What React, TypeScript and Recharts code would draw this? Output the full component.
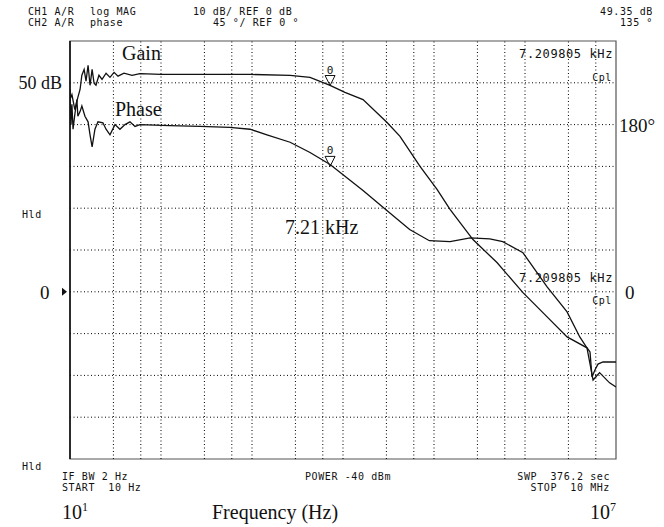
import React from 'react';
import { ComposedChart, Line, Scatter, XAxis, YAxis, ReferenceLine, ReferenceArea, ReferenceDot } from 'recharts';

// Gain trace (Hz, dB)
const GAIN_FREQ = [10, 10.5, 11.3, 12.2, 12.9, 13.5, 14.3, 15.0, 15.8, 16.6, 17.5, 18.4, 19.3, 20.8, 22.5, 24.9, 27.5, 30.5, 33.7, 39.2, 48, 58.7, 100, 268, 951, 2620, 4340, 7210, 10500, 16600, 30500, 42300, 70200, 108000, 150000, 268000, 492000, 950000, 1750000, 2900000, 4800000, 5180000, 5450000, 5870000, 6340000, 7190000, 10000000];
const GAIN_DB = [46.0, 47.2, 43.6, 46.5, 48.4, 51.8, 53.2, 50.4, 54.2, 49.4, 53.2, 49.9, 49.4, 51.8, 50.8, 52.3, 51.3, 52.5, 51.6, 52.3, 51.8, 52.2, 52.0, 52.0, 52.0, 51.8, 51.3, 49.4, 47.7, 46.0, 40.5, 37.2, 30.0, 24.5, 19.7, 12.5, 7.0, -0.2, -6.0, -10.8, -13.4, -14.4, -20.4, -18.7, -17.3, -16.8, -16.8];

// Phase trace (Hz, degrees)
const PHASE_FREQ = [10, 10.25, 10.5, 10.8, 11.3, 11.9, 12.2, 12.9, 13.5, 14.6, 15.8, 16.6, 17.5, 18.8, 20.3, 23.0, 24.9, 27.5, 31.2, 35.4, 40.2, 45.6, 51.8, 58.7, 125, 268, 570, 951, 1460, 2620, 4340, 7210, 16600, 27500, 54000, 89000, 150000, 250000, 410000, 570000, 950000, 1750000, 2900000, 4000000, 4800000, 5600000, 6600000, 8500000, 10000000];
const PHASE_DEG = [218, 180, 202, 175, 191, 207, 189, 194, 200, 189, 183, 169, 156, 175, 183, 182, 175, 169, 180, 175, 180, 183, 178, 180, 179, 178, 177, 175, 169, 161, 150, 137, 109, 91, 67, 55, 54, 58, 57, 54, 42, 5.4, -21.6, -48.6, -60.4, -95, -87, -98, -102.5];

const GRID_FREQ = [30, 60, 100, 300, 600, 1e3, 3e3, 6e3, 1e4, 3e4, 6e4, 1e5, 3e5, 6e5, 1e6, 3e6, 6e6];
const GRID_DB = [-30, -20, -10, 0, 10, 20, 30, 40, 50];

const MARKER_FREQ = 7209.805;
const MARKER_GAIN = 49.35;
const MARKER_PHASE = 135;

const NB = '\u00a0';
const HEADER_1 = ['CH1 A/R', 'log MAG', '10 dB/ REF 0 dB', '49.35 dB'];
const HEADER_2 = ['CH2 A/R', 'phase', '45 °/ REF 0 °', '135 °'];
const FOOTER_1 = ['IF BW 2 Hz', 'POWER -40 dBm', `SWP${NB}${NB}376.2 sec`];
const FOOTER_2 = [`START${NB}${NB}10 Hz`, `STOP${NB}${NB}10 MHz`];

const gainData = GAIN_FREQ.map((f, i) => ({ f, v: GAIN_DB[i] }));
const phaseData = PHASE_FREQ.map((f, i) => ({ f, v: PHASE_DEG[i] }));

const MONO = '"DejaVu Sans Mono", monospace';
const SERIF = '"Liberation Serif", "DejaVu Serif", serif';

// eslint-disable-next-line @typescript-eslint/no-explicit-any
const MarkerShape = (props: any) => {
    const { cx, cy } = props;
    return (
        <g>
            <path d={`M${cx - 5},${cy - 10} L${cx + 5},${cy - 10} L${cx},${cy} Z`} fill="none" stroke="#111" strokeWidth={1} />
            <text x={cx} y={cy - 12} textAnchor="middle" fontFamily={MONO} fontSize={11} fill="#111">0</text>
        </g>
    );
};

// eslint-disable-next-line @typescript-eslint/no-explicit-any
const RefArrow = (props: any) => {
    const { cx, cy } = props;
    return <path d={`M${cx - 8},${cy - 4} L${cx - 3},${cy} L${cx - 8},${cy + 4} Z`} fill="#111" />;
};

export default function App() {
    return (
        <div style={{ position: 'absolute', left: 0, top: 0, width: 664, height: 527, background: '#fff' }}>
            <ComposedChart width={664} height={527} margin={{ top: 41, right: 48, bottom: 68, left: 70 }}>
                <XAxis type="number" dataKey="f" scale="log" domain={[10, 1e7]} allowDataOverflow hide />
                <YAxis yAxisId="gain" type="number" domain={[-40, 60]} allowDataOverflow hide />
                <YAxis yAxisId="phase" type="number" domain={[-180, 270]} allowDataOverflow hide />

                {GRID_FREQ.map((f) => (
                    <ReferenceLine key={`vx-${f}`} x={f} yAxisId="gain" stroke="#000" strokeWidth={1} strokeDasharray="1 2.5" />
                ))}
                {GRID_DB.map((d) => (
                    <ReferenceLine key={`hy-${d}`} y={d} yAxisId="gain" stroke="#000" strokeWidth={1} strokeDasharray="1 2.5" />
                ))}
                <ReferenceArea x1={10} x2={1e7} y1={-40} y2={60} yAxisId="gain" fill="none" fillOpacity={0} stroke="#555" strokeWidth={1.2} />
                <ReferenceLine x={10} yAxisId="gain" stroke="#111" strokeWidth={1.6} />
                <ReferenceDot x={10} y={0} yAxisId="gain" shape={RefArrow} />

                <Line yAxisId="gain" data={gainData} dataKey="v" type="linear" stroke="#111" strokeWidth={1.3} dot={false} isAnimationActive={false} />
                <Line yAxisId="phase" data={phaseData} dataKey="v" type="linear" stroke="#111" strokeWidth={1.3} dot={false} isAnimationActive={false} />
                <Scatter yAxisId="gain" data={[{ f: MARKER_FREQ, v: MARKER_GAIN }]} dataKey="v" shape={MarkerShape} isAnimationActive={false} />
                <Scatter yAxisId="phase" data={[{ f: MARKER_FREQ, v: MARKER_PHASE }]} dataKey="v" shape={MarkerShape} isAnimationActive={false} />
            </ComposedChart>

            <svg width={664} height={527} style={{ position: 'absolute', left: 0, top: 0, pointerEvents: 'none' }}>
                <g fontFamily={MONO} fontSize={10} letterSpacing={0.6} fill="#111">
                    <text x={28} y={15}>{HEADER_1[0]}</text>
                    <text x={90} y={15}>{HEADER_1[1]}</text>
                    <text x={193} y={15}>{HEADER_1[2]}</text>
                    <text x={653} y={15} textAnchor="end">{HEADER_1[3]}</text>
                    <text x={28} y={26}>{HEADER_2[0]}</text>
                    <text x={90} y={26}>{HEADER_2[1]}</text>
                    <text x={213} y={26}>{HEADER_2[2]}</text>
                    <text x={653} y={26} textAnchor="end">{HEADER_2[3]}</text>

                    <text x={22} y={218}>Hld</text>
                    <text x={22} y={470}>Hld</text>

                    <text x={613} y={58} textAnchor="end" fontSize={12}>7.209805 kHz</text>
                    <text x={612} y={81} textAnchor="end">Cpl</text>
                    <text x={613} y={282} textAnchor="end" fontSize={12}>7.209805 kHz</text>
                    <text x={612} y={304} textAnchor="end">Cpl</text>

                    <text x={62} y={480}>{FOOTER_1[0]}</text>
                    <text x={305} y={480}>{FOOTER_1[1]}</text>
                    <text x={610} y={480} textAnchor="end">{FOOTER_1[2]}</text>
                    <text x={62} y={491}>{FOOTER_2[0]}</text>
                    <text x={610} y={491} textAnchor="end">{FOOTER_2[1]}</text>
                </g>
                <g fontFamily={SERIF} fill="#111">
                    <text x={122} y={60} fontSize={20}>Gain</text>
                    <text x={115} y={116} fontSize={20}>Phase</text>
                    <text x={62} y={89} fontSize={18} textAnchor="end">50 dB</text>
                    <text x={619} y={132} fontSize={19}>180°</text>
                    <text x={40} y={299} fontSize={19}>0</text>
                    <text x={625} y={299} fontSize={19}>0</text>
                    <text x={285} y={234} fontSize={20}>7.21 kHz</text>
                    <text x={62} y={519} fontSize={20}>10<tspan fontSize={12} dy={-8}>1</tspan></text>
                    <text x={212} y={519} fontSize={20}>Frequency (Hz)</text>
                    <text x={590} y={519} fontSize={20}>10<tspan fontSize={12} dy={-8}>7</tspan></text>
                </g>
            </svg>
        </div>
    );
}
